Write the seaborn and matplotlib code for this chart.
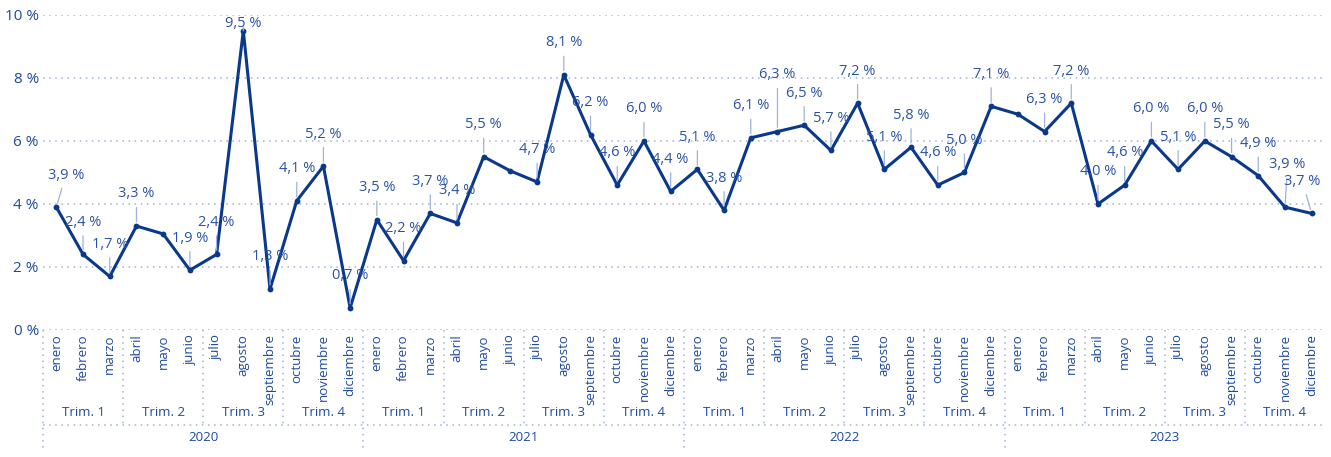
import matplotlib
matplotlib.use("Agg")
import matplotlib.pyplot as plt
import matplotlib.transforms as mtransforms
import seaborn as sns
import pandas as pd

years = ["2020", "2021", "2022", "2023"]
quarters = ["Trim. 1", "Trim. 2", "Trim. 3", "Trim. 4"]
months = ["enero", "febrero", "marzo", "abril", "mayo", "junio", "julio",
          "agosto", "septiembre", "octubre", "noviembre", "diciembre"]

rate_2020 = [3.9, 2.4, 1.7, 3.3, 3.05, 1.9, 2.4, 9.5, 1.3, 4.1, 5.2, 0.7]
rate_2021 = [3.5, 2.2, 3.7, 3.4, 5.5, 5.05, 4.7, 8.1, 6.2, 4.6, 6.0, 4.4]
rate_2022 = [5.1, 3.8, 6.1, 6.3, 6.5, 5.7, 7.2, 5.1, 5.8, 4.6, 5.0, 7.1]
rate_2023 = [6.85, 6.3, 7.2, 4.0, 4.6, 6.0, 5.1, 6.0, 5.5, 4.9, 3.9, 3.7]

# points without a data label in the original
unlabeled = [(2020, "mayo"), (2021, "junio"), (2023, "enero")]

rates = rate_2020 + rate_2021 + rate_2022 + rate_2023
df = pd.DataFrame({
    "year": [y for y in years for _ in months],
    "month": months * len(years),
    "rate": rates,
})
df["pos"] = range(len(df))

LINE = "#0a388a"
TEXT = "#2a53a6"
TICK = "#1d4a9e"
GRID = "#9fb2da"

# labels lifted further to avoid their neighbours (in % units), and x nudges
lift = {(2022, "abril"): 1.8, (2023, "noviembre"): 1.35}
nudge = {(2020, "enero"): 0.35, (2023, "diciembre"): -0.35,
         (2023, "noviembre"): 0.1}

sns.set_theme(style="white")
plt.rcParams["font.family"] = ["Open Sans", "DejaVu Sans"]

fig = plt.figure(figsize=(13.31, 4.57), dpi=100)
ax = fig.add_axes([0.0323, 0.2779, 0.9632, 0.6893])

sns.lineplot(data=df, x="pos", y="rate", ax=ax, color=LINE, linewidth=2.2,
             marker="o", markersize=4.2, markeredgewidth=0, zorder=3)

ax.set_xlim(-0.5, len(df) - 0.5)
ax.set_ylim(0, 10)
ax.set_yticks(range(0, 11, 2))
ax.set_yticklabels([f"{t} %" for t in range(0, 11, 2)], color=TICK, fontsize=11)
for t in range(0, 11, 2):
    ax.axhline(t, color=GRID, lw=1.1, ls=(0, (1, 3)), zorder=1)

ax.set_xticks(df["pos"])
ax.set_xticklabels(df["month"], rotation=90, color=TICK, fontsize=9.5)
ax.tick_params(axis="both", length=0, pad=3)
ax.set_xlabel("")
ax.set_ylabel("")
for s in ax.spines.values():
    s.set_visible(False)

# data labels with leader lines
skip = {(int(y), m) for y, m in unlabeled}
for _, row in df.iterrows():
    key = (int(row["year"]), row["month"])
    if key in skip:
        continue
    txt = f"{row['rate']:.1f}".replace(".", ",") + " %"
    ty = min(row["rate"] + lift.get(key, 1.02), 9.72)
    tx = row["pos"] + nudge.get(key, 0.0)
    ax.annotate(txt, xy=(row["pos"], row["rate"]), xytext=(tx, ty),
                ha="center", va="center", color=TEXT, fontsize=10.5,
                annotation_clip=False, zorder=4,
                arrowprops=dict(arrowstyle="-", color=GRID, lw=0.9,
                                shrinkA=2, shrinkB=3))

# hierarchical axis below the plot
trans = mtransforms.blended_transform_factory(ax.transData, ax.transAxes)
q_len = len(months) // len(quarters)
for yi, year in enumerate(years):
    start = yi * len(months)
    for qi, q in enumerate(quarters):
        qs = start + qi * q_len
        ax.text(qs + (q_len - 1) / 2, -0.263, q, transform=trans, ha="center",
                va="center", color=TICK, fontsize=9.5, clip_on=False)
        if qi > 0:
            ax.plot([qs - 0.5, qs - 0.5], [0, -0.30], transform=trans,
                    color=GRID, lw=1.1, ls=(0, (1, 3)), clip_on=False)
    ax.text(start + (len(months) - 1) / 2, -0.34, year, transform=trans,
            ha="center", va="center", color=TICK, fontsize=9.5, clip_on=False)
    ax.plot([start - 0.5, start - 0.5], [0, -0.385], transform=trans,
            color=GRID, lw=1.1, ls=(0, (1, 3)), clip_on=False)

ax.plot([-0.5, len(df) - 0.5], [-0.30, -0.30], transform=trans, color=GRID,
        lw=1.1, ls=(0, (1, 3)), clip_on=False)

fig.savefig("out.png", dpi=100, facecolor="white")
